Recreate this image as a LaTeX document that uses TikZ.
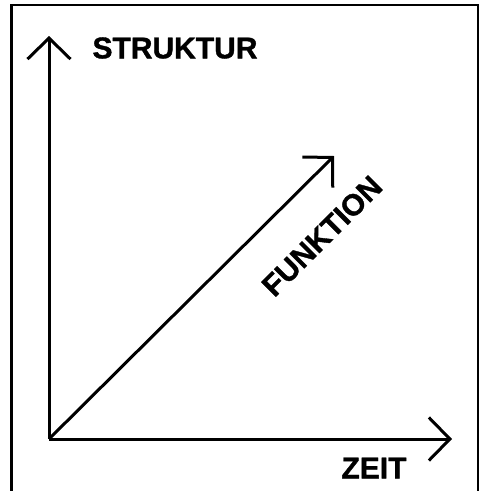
\documentclass[tikz,border=0pt]{standalone}
\usepackage{fontspec}
\setmainfont{Liberation Sans}[BoldFeatures={FakeBold=1.2}]
\usetikzlibrary{arrows.meta}
\begin{document}
\begin{tikzpicture}[x=1pt,y=-1pt,
  axis/.style={line width=3pt,-{Straight Barb[length=21pt,width=43pt,line width=3pt]}},
  frameline/.style={line width=2.2pt},
  lbl/.style={font=\bfseries\fontsize{30}{31}\selectfont, inner sep=0pt}]
\useasboundingbox (0,0) rectangle (479,491);
\draw[frameline] (11.5,495) -- (11.5,5) -- (478,5) -- (478,495);
\coordinate (o) at (49,439);
\coordinate (s) at (49,36);
\coordinate (z) at (452,439);
\coordinate (f) at (334,156);
\draw[axis] (o) -- (s);
\draw[axis] (o) -- (z);
\draw[axis] (o) -- (f);
\node[lbl] (tstruk) at (175,48) {STRUKTUR};
\node[lbl] (tzeit) at (374,468) {ZEIT};
\node[lbl, rotate=45] (tfunk) at (322,236) {FUNKTION};
\end{tikzpicture}
\end{document}
